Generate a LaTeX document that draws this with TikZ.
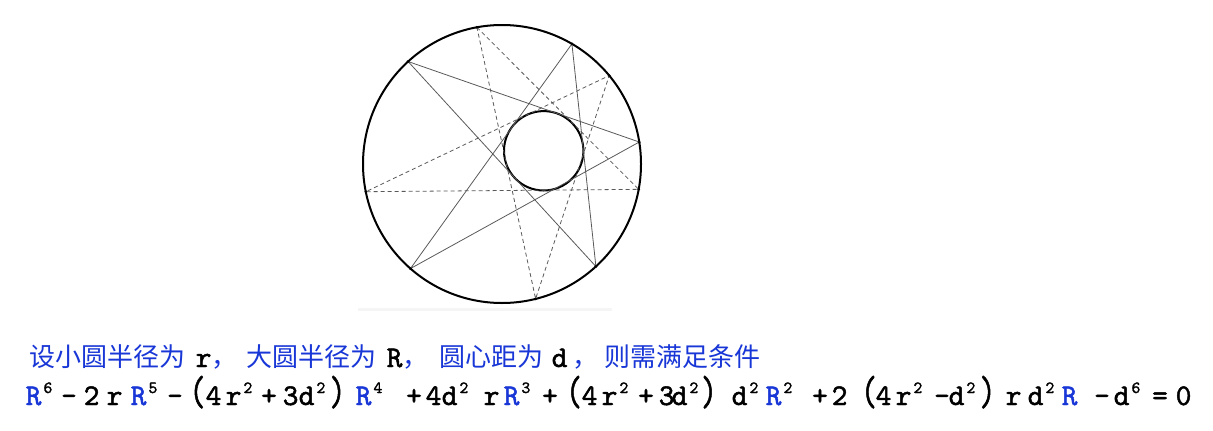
\documentclass[tikz,border=0pt]{standalone}
\usepackage{fontspec}
\usepackage{graphicx}
\usetikzlibrary{positioning}
\newfontfamily\cjk{Noto Sans CJK SC}
\newfontfamily\cour{lmmono10-regular.otf}[FakeBold=1.6]
\definecolor{qblue}{RGB}{25,55,215}
\newcommand{\eqfont}{\cour\fontsize{30}{30}\selectfont}
\newcommand{\pw}[1]{\kern2pt\raisebox{12pt}{\fontsize{17}{17}\selectfont #1}}
\newcommand{\bR}{{\color{qblue}R}}
\newcommand{\nm}[1]{\makebox[12pt][l]{#1}}
\newcommand{\op}[1]{\makebox[9pt]{#1}}
\newcommand{\bigp}[1]{\makebox[9pt]{\scalebox{1}[1.4]{#1}}}

\begin{document}
\begin{tikzpicture}[x=1pt,y=-1pt,
    chord/.style={black!65, line width=0.8pt},
    dchord/.style={chord, dash pattern=on 4pt off 3pt},
    dot/.style={circle, fill=black, inner sep=0pt, minimum size=3pt},
    tok/.style={anchor=base west, inner sep=0pt, xshift=-1.5pt, font=\eqfont},
    tokc/.style={anchor=base, inner sep=0pt, font=\eqfont},
    cjkt/.style={anchor=base west, inner sep=0pt, xshift=-1pt, text=qblue,
        font=\cjk\fontsize{26}{26}\selectfont}]
    \useasboundingbox (0,0) rectangle (1213,431);
    % edge of the scanned figure
    \fill[gray!8] (358,308) rectangle (612,310.5);
    % outer and inner circle
    \coordinate (O) at (502,164);
    \coordinate (C) at (543.7,150.8);
    \draw[line width=2pt] (O) circle (139pt);
    \draw[line width=2pt] (C) circle (39.7pt);
    % points on the outer circle
    \foreach \a [count=\i] in {100.4,59.8,39.5,9.1,-10.5,-47.5,-76,228.8,191.5,132.5}
        \path (O) ++(\a:139pt) coordinate (p\i);
    % two Poncelet pentagrams
    \draw[chord] (p10) -- (p4) -- (p8) -- (p2) -- (p6) -- cycle;
    \draw[dchord] (p1) -- (p5) -- (p9) -- (p3) -- (p7) -- cycle;
    \foreach \i in {1,...,10}
        \node[dot] (d\i) at (p\i) {};
    % condition, first line
    \foreach \x/\t [count=\i] in {30/设小圆半径为, 247/大圆半径为, 440/圆心距为, 605/则需满足条件}
        \node[cjkt] (c\i) at (\x,366) {\t};
    \foreach \x [count=\i] in {214,405,575}
        \node[cjkt, xshift=-2pt] (k\i) at (\x,366) {，};
    \foreach \x/\t [count=\i] in {197/r, 388/R, 553/d}
        \node[tok] (v\i) at (\x,367) {\t};
    % condition, second line
    \foreach \x/\t [count=\i] in {
        27/{\bR\pw{6}}, 85/\nm{2}, 108/r, 132/{\bR\pw{5}}, 207/\nm{4}, 227/{r\pw{2}},
        284/\nm{3}, 300/{d\pw{2}}, 357/{\bR\pw{4}}, 427/\nm{4}, 443/{d\pw{2}}, 485/r,
        505/{\bR\pw{3}}, 583/\nm{4}, 603/{r\pw{2}}, 660/\nm{3}, 673/{d\pw{2}},
        733/{d\pw{2}}, 767/{\bR\pw{2}}, 833/\nm{2}, 877/\nm{4}, 897/{r\pw{2}},
        950/{d\pw{2}}, 1007/r, 1029/{d\pw{2}}, 1063/\bR, 1115/{d\pw{6}}, 1177/0}
        \node[tok] (f\i) at (\x,405) {\t};
    \foreach \x/\t [count=\i] in {
        69/\op{-}, 175/\op{-}, 197.5/{\bigp{(}}, 269/\op{+}, 337.5/{\bigp{)}}, 414/\op{+},
        550/\op{+}, 574/{\bigp{(}}, 646/\op{+}, 709/{\bigp{)}}, 820/\op{+}, 869/{\bigp{(}},
        942/\op{-}, 987.5/{\bigp{)}}, 1102/\op{-}, 1160/\op{=}}
        \node[tokc] (o\i) at (\x,405) {\t};
\end{tikzpicture}
\end{document}
